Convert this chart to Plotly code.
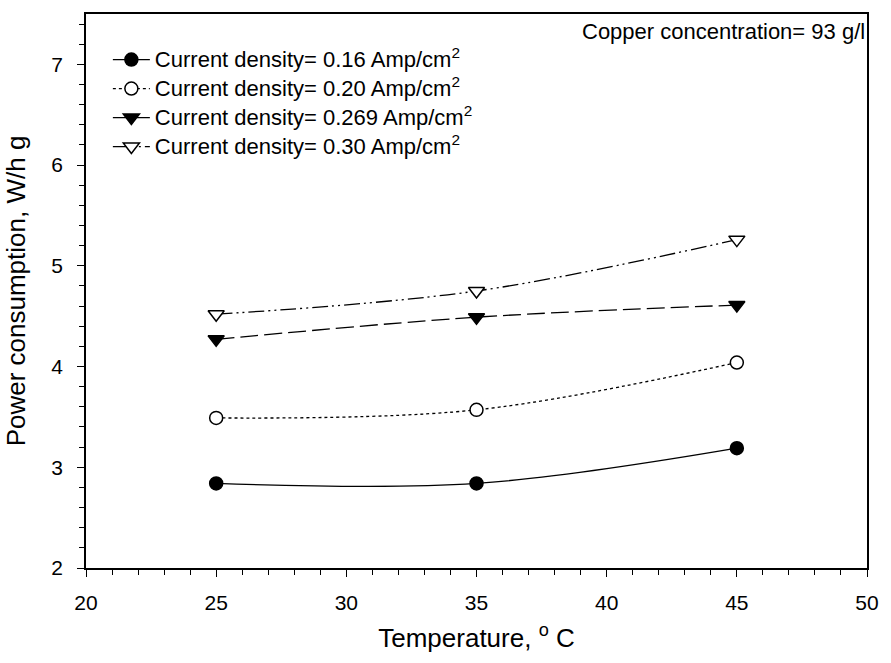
import plotly.graph_objects as go

temperature = [25, 35, 45]
cd_016 = [2.84, 2.84, 3.19]
cd_020 = [3.49, 3.57, 4.04]
cd_0269 = [4.27, 4.49, 4.61]
cd_030 = [4.52, 4.75, 5.26]

names = [
    "Current density= 0.16 Amp/cm<sup>2</sup>",
    "Current density= 0.20 Amp/cm<sup>2</sup>",
    "Current density= 0.269 Amp/cm<sup>2</sup>",
    "Current density= 0.30 Amp/cm<sup>2</sup>",
]
series = [cd_016, cd_020, cd_0269, cd_030]
symbols = ["circle", "circle", "triangle-down", "triangle-down"]
fills = ["black", "white", "black", "white"]
dashes = ["solid", "dot", "18px,6px", "16px,4px,2px,4px,2px,4px"]
sizes = [13, 13, 14, 14]

FONT = "Liberation Sans, Arial, sans-serif"

fig = go.Figure()
for i, (nm, ys) in enumerate(zip(names, series)):
    fig.add_trace(go.Scatter(
        x=temperature, y=ys, name=f'<span style="font-size:22px">{nm}</span>',
        mode="lines+markers",
        line=dict(color="black", width=1.3, dash=dashes[i], shape="spline", smoothing=1),
        marker=dict(symbol=symbols[i], size=sizes[i], color=fills[i],
                    line=dict(color="black", width=1.5)),
    ))

fig.update_layout(
    width=891, height=663,
    margin=dict(l=86, r=13, t=13, b=95),
    paper_bgcolor="white", plot_bgcolor="white",
    font=dict(family=FONT, size=21, color="black"),
    showlegend=True,
    legend=dict(x=0.028, y=0.953, xanchor="left", yanchor="top",
                bgcolor="rgba(0,0,0,0)", font=dict(size=20, family=FONT),
                itemwidth=37),
    xaxis=dict(range=[20, 50], tickvals=[20, 25, 30, 35, 40, 45, 50],
               showgrid=False, zeroline=False,
               showline=True, linecolor="black", linewidth=1.6, mirror=True,
               ticks="outside", ticklen=7, tickwidth=1.3, tickcolor="black",
               ticklabelstandoff=8,
               minor=dict(dtick=1, ticks="outside", ticklen=5, tickwidth=1, tickcolor="black"),
               title=dict(text="Temperature, <sup>o</sup> C", font=dict(size=26), standoff=16)),
    yaxis=dict(range=[2, 7.5], tickvals=[2, 3, 4, 5, 6, 7],
               showgrid=False, zeroline=False,
               showline=True, linecolor="black", linewidth=1.6, mirror=True,
               ticks="outside", ticklen=7, tickwidth=1.3, tickcolor="black",
               ticklabelstandoff=10,
               minor=dict(dtick=0.2, ticks="outside", ticklen=5, tickwidth=1, tickcolor="black"),
               title=dict(text="Power consumption, W/h g", font=dict(size=26), standoff=18)),
    annotations=[dict(text="Copper concentration= 93 g/l", xref="paper", yref="paper",
                      x=1.0, y=0.968, xanchor="right", yanchor="middle",
                      showarrow=False, font=dict(size=22, family=FONT))],
)

fig.write_html("out.html")
